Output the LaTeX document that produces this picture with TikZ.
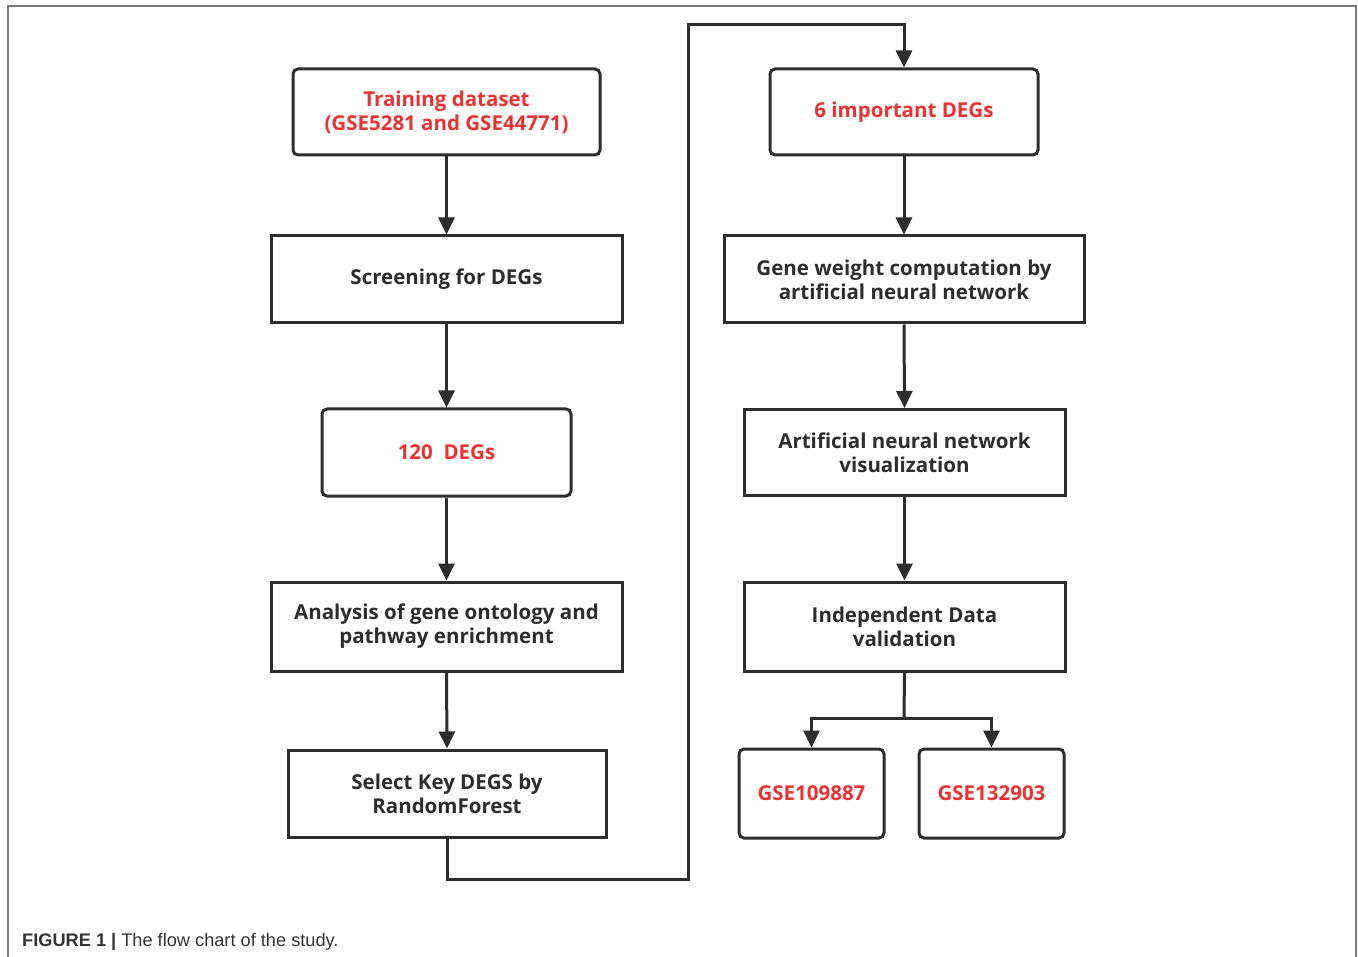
\documentclass[tikz,border=0pt]{standalone}
\usepackage{fontspec}
\setmainfont{Open Sans}
\newfontfamily\capfont{Liberation Sans}
\usetikzlibrary{arrows.meta}
\definecolor{boxline}{RGB}{45,45,45}
\definecolor{redtxt}{RGB}{235,50,50}
\definecolor{framegray}{RGB}{120,120,120}
\tikzset{
  flowbox/.style={draw=boxline, line width=3pt, fill=white, align=center, inner sep=0pt,
    font=\fontsize{20.5}{24}\selectfont\bfseries, text=boxline},
  roundbox/.style={flowbox, rounded corners=5pt},
  redtext/.style={text=redtxt},
  flowarrow/.style={draw=boxline, line width=3pt, -{Triangle[length=17pt,width=16pt]}},
  flowline/.style={draw=boxline, line width=3pt},
}
\begin{document}
\begin{tikzpicture}[x=1pt,y=-1pt]
\useasboundingbox (0,0) rectangle (1358,957);
\fill[white] (0,0) rectangle (1358,957);
\draw[framegray, line width=1.6pt] (8,957) -- (8,6) -- (1356,6) -- (1356,957);

% left column
\node[roundbox, redtext, minimum width=307pt, minimum height=86pt] (train) at (446.5,112) {Training dataset\\(GSE5281 and GSE44771)};
\node[flowbox, minimum width=351pt, minimum height=87pt] (screen) at (446.5,279.5) {Screening for DEGs};
\node[roundbox, redtext, minimum width=249pt, minimum height=87pt] (deg120) at (446.5,452.5) {120\ \ DEGs};
\node[flowbox, minimum width=351pt, minimum height=89pt] (go) at (446.5,626.5) {Analysis of gene ontology and\\pathway enrichment};
\node[flowbox, minimum width=318pt, minimum height=87pt] (rf) at (447,793.5) {Select Key DEGS by\\RandomForest};

% right column
\node[roundbox, redtext, minimum width=268pt, minimum height=86pt] (deg6) at (904,112) {6 important DEGs};
\node[flowbox, minimum width=360pt, minimum height=87pt] (ann) at (904,279.5) {Gene weight computation by\\artificial neural network};
\node[flowbox, minimum width=321pt, minimum height=86pt] (vis) at (904.5,452.5) {Artificial neural network\\visualization};
\node[flowbox, minimum width=321pt, minimum height=89pt] (ind) at (904.5,626.5) {Independent Data\\validation};
\node[roundbox, redtext, minimum width=145pt, minimum height=89pt] (g1) at (811.5,793.5) {GSE109887};
\node[roundbox, redtext, minimum width=145pt, minimum height=89pt] (g2) at (991.5,793.5) {GSE132903};

% connectors
\draw[flowarrow] (train.south) -- (screen.north);
\draw[flowarrow] (screen.south) -- (deg120.north);
\draw[flowarrow] (deg120.south) -- (go.north);
\draw[flowarrow] (go.south) -- (rf.north);
\coordinate (lb) at (447,879);
\coordinate (mb) at (688,879);
\coordinate (mt) at (688,25);
\coordinate (rt) at (904,25);
\draw[flowarrow] (rf.south) -- (lb) -- (mb) -- (mt) -- (rt) -- (deg6.north);
\draw[flowarrow] (deg6.south) -- (ann.north);
\draw[flowarrow] (ann.south) -- (vis.north);
\draw[flowarrow] (vis.south) -- (ind.north);
\coordinate (split) at (904,718);
\coordinate (sl) at (811.5,718);
\coordinate (sr) at (991.5,718);
\draw[flowline] (ind.south) -- (split);
\draw[flowarrow] (split) -- (sl) -- (g1.north);
\draw[flowarrow] (split) -- (sr) -- (g2.north);

\node[anchor=base west, inner sep=0pt, font=\capfont\fontsize{18.2}{22}\selectfont, text=black!80] (cap) at (22,946) {\textbf{FIGURE 1 |} The flow chart of the study.};
\end{tikzpicture}
\end{document}
